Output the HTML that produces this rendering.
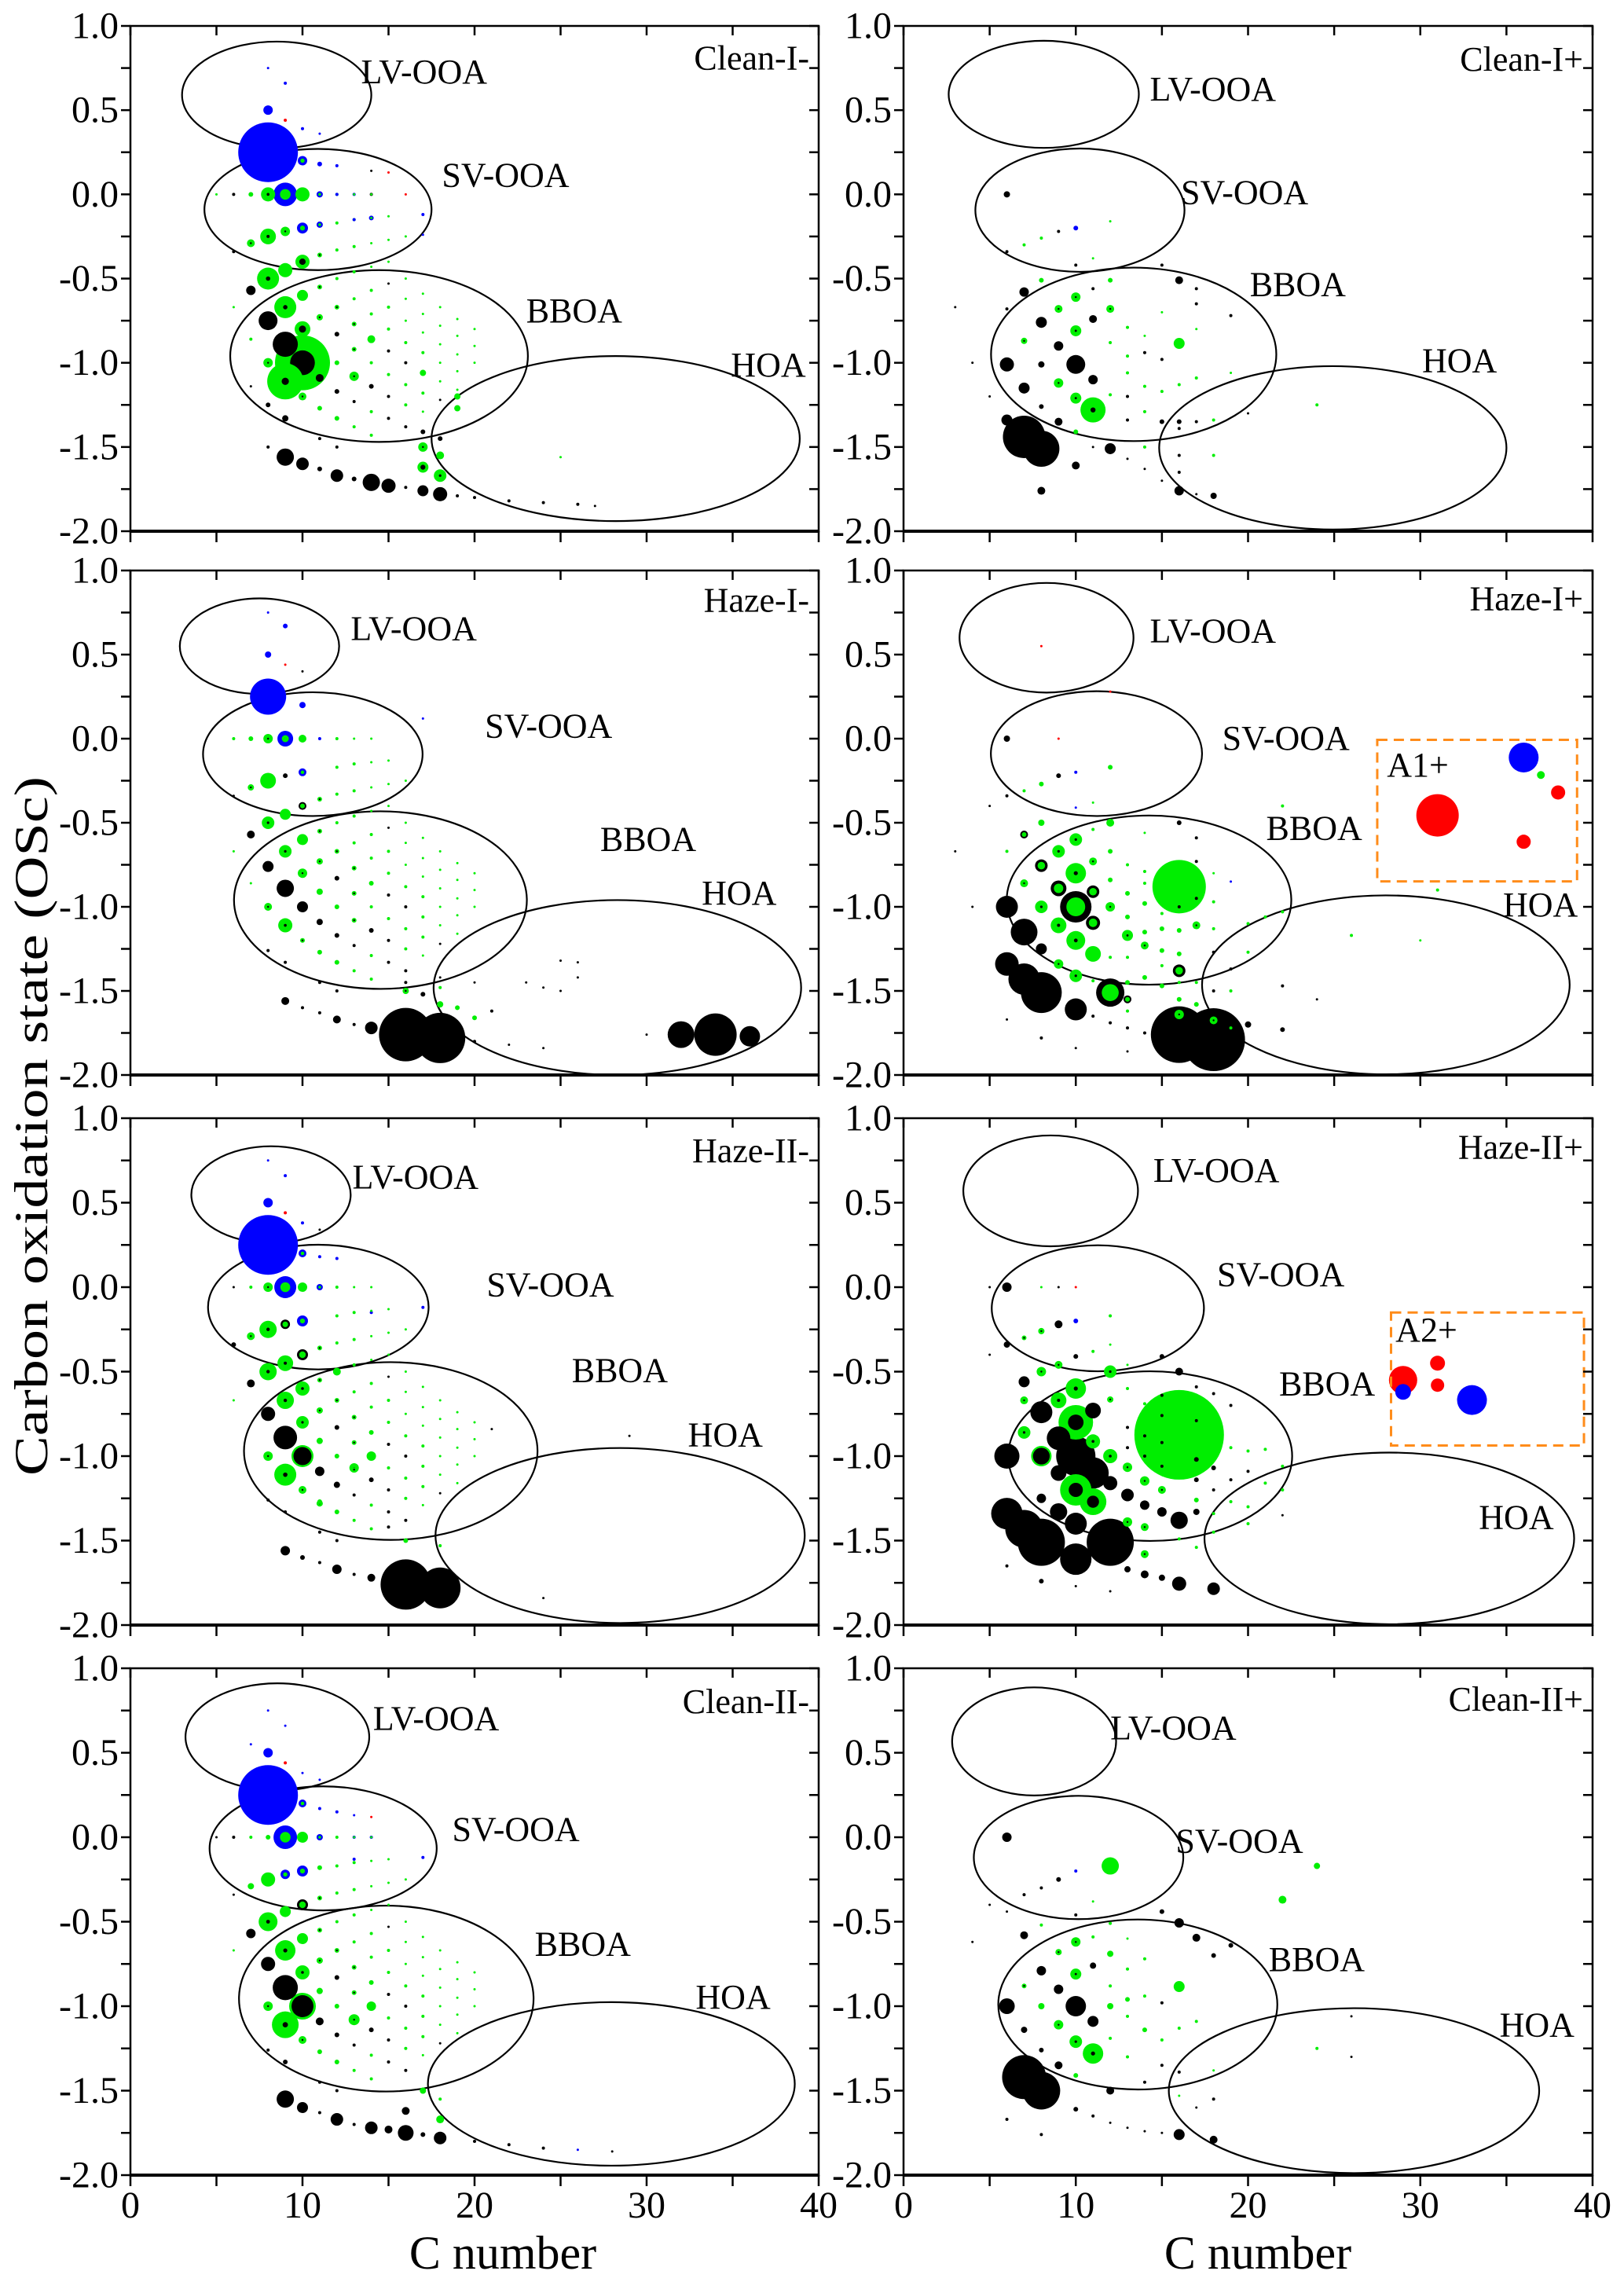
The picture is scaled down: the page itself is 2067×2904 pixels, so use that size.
<!DOCTYPE html>
<html>
<head>
<meta charset="utf-8">
<style>
html,body{margin:0;padding:0;background:#fff;}
svg{display:block;}
text{font-family:"Liberation Serif",serif;fill:#000;}
</style>
</head>
<body>
<svg id="chart" width="2067" height="2904" viewBox="0 0 2067 2904" xmlns="http://www.w3.org/2000/svg">
<rect x="0" y="0" width="2067" height="2904" fill="#fff"/>
<text x="0" y="0" transform="translate(40,1433) rotate(-90)" text-anchor="middle" dominant-baseline="central" font-size="60" textLength="890" lengthAdjust="spacingAndGlyphs">Carbon oxidation state (OSc)</text>
<text x="640" y="2887" text-anchor="middle" font-size="60">C number</text>
<text x="1601" y="2887" text-anchor="middle" font-size="60">C number</text>
</svg>
<script>
// ---------- data ----------
const panelTitles = ["Clean-I-","Haze-I-","Haze-II-","Clean-II-","Clean-I+","Haze-I+","Haze-II+","Clean-II+"];
const regionNames = ["LV-OOA","SV-OOA","BBOA","HOA"];
const yTicks = [1.0,0.5,0.0,-0.5,-1.0,-1.5,-2.0];
const yTickLabels = ["1.0","0.5","0.0","-0.5","-1.0","-1.5","-2.0"];
const xTicks = [0,10,20,30,40];
const xTickLabels = ["0","10","20","30","40"];

// ellipses [cx, cy, rx, ry] in data units: LV, SV, BBOA, HOA
const ellCleanIm = [[8.5,0.59,5.5,0.317],[10.9,-0.09,6.6,0.36],[14.45,-0.96,8.65,0.51],[28.2,-1.45,10.7,0.49]];
const ellHazeIm = [[7.5,0.55,4.63,0.284],[10.6,-0.092,6.38,0.368],[14.53,-0.96,8.51,0.528],[28.3,-1.48,10.68,0.52]];
const ellHazeIIm = [[8.17,0.547,4.63,0.287],[10.92,-0.118,6.41,0.369],[15.13,-0.97,8.53,0.526],[28.46,-1.47,10.73,0.518]];
const ellCleanIIm = [[8.54,0.594,5.34,0.317],[11.2,-0.066,6.6,0.367],[14.87,-0.955,8.56,0.55],[27.95,-1.46,10.66,0.484]];
const ellCleanIp = [[8.14,0.594,5.52,0.318],[10.24,-0.094,6.07,0.366],[13.36,-0.95,8.28,0.515],[24.92,-1.505,10.08,0.485]];
const ellHazeIp = [[8.3,0.60,5.05,0.326],[11.2,-0.089,6.13,0.371],[14.25,-0.96,8.26,0.503],[28.0,-1.464,10.67,0.532]];
const ellHazeIIp = [[8.54,0.57,5.07,0.328],[11.28,-0.125,6.16,0.373],[14.32,-1.0,8.24,0.502],[28.2,-1.487,10.73,0.508]];
const ellCleanIIp = [[7.58,0.567,4.76,0.32],[10.16,-0.12,6.08,0.365],[13.6,-0.99,8.1,0.503],[26.15,-1.5,10.75,0.488]];

// region label anchors [C, OSc]
const lblCleanIm = [[13.4,0.66],[18.1,0.047],[23.0,-0.76],[34.9,-1.08]];
const lblHazeIm = [[12.8,0.587],[20.6,0.007],[27.3,-0.666],[33.2,-0.987]];
const lblHazeIIm = [[12.9,0.583],[20.7,-0.053],[25.65,-0.56],[32.4,-0.943]];
const lblCleanIIm = [[14.1,0.634],[18.7,-0.02],[23.5,-0.7],[32.85,-1.015]];
const lblCleanIp = [[14.3,0.557],[16.1,-0.056],[20.1,-0.603],[30.1,-1.056]];
const lblHazeIp = [[14.3,0.573],[18.5,-0.066],[21.05,-0.6],[34.8,-1.056]];
const lblHazeIIp = [[14.5,0.624],[18.2,0.007],[21.8,-0.64],[33.4,-1.43]];
const lblCleanIIp = [[12.0,0.58],[15.8,-0.09],[21.2,-0.79],[34.6,-1.18]];
const titleOSc = [0.74,0.755,0.74,0.735,0.734,0.764,0.76,0.75];

// shared small-dot grid (left panels)
const gridSmall = [[12,-0.5,2,'g'],[13,-0.46,2,'g'],[14,-0.43,1.5,'g'],[15,-0.4,1.5,'g'],[12,-0.67,3,'gk'],[13,-0.62,2,'g'],[14,-0.57,2,'g'],[15,-0.53,1.5,'k'],[16,-0.5,1.5,'g'],[12,-0.83,3,'k'],[13,-0.77,3,'gk'],[14,-0.71,2,'g'],[15,-0.67,2,'g'],[16,-0.62,1.5,'g'],[17,-0.59,1.5,'g'],[12,-1.0,3,'g'],[13,-0.92,3,'gk'],[14,-0.86,3,'g'],[15,-0.8,2,'g'],[16,-0.75,1.5,'g'],[17,-0.71,1.5,'g'],[18,-0.67,1.5,'g'],[12,-1.17,3,'k'],[13,-1.08,3,'gk'],[14,-1.0,2,'g'],[15,-0.93,2,'k'],[16,-0.88,2,'g'],[17,-0.82,1.5,'g'],[18,-0.78,1.5,'g'],[19,-0.74,1.5,'g'],[12,-1.33,3,'g'],[13,-1.23,2,'k'],[14,-1.14,3,'k'],[15,-1.07,2,'g'],[16,-1.0,2,'k'],[17,-0.94,2,'g'],[18,-0.89,1.5,'g'],[19,-0.84,1.5,'g'],[20,-0.8,1.5,'g'],[13,-1.38,2,'g'],[14,-1.29,2,'g'],[15,-1.2,2,'k'],[16,-1.13,2,'g'],[17,-1.06,2,'g'],[18,-1.0,1.5,'g'],[19,-0.95,1.5,'g'],[20,-0.9,1.5,'g'],[14,-1.43,2,'g'],[15,-1.33,2,'k'],[16,-1.25,2,'g'],[17,-1.18,2,'g'],[18,-1.11,1.5,'g'],[19,-1.05,1.5,'g'],[20,-1.0,1.5,'g'],[16,-1.38,2,'k'],[17,-1.29,1.5,'g'],[18,-1.22,1.5,'k'],[19,-1.16,1.5,'g'],[11,-1.45,2,'k'],[12,-1.5,2,'k'],[11,-0.55,3,'gk'],[11,-0.36,3,'gk'],[11,-0.73,4,'gk'],[11,-0.91,4,'g'],[11,-1.27,3,'g'],[12,-0.33,2,'g'],[13,-0.31,2,'g'],[14,-0.29,1.5,'g'],[15,-0.27,1.5,'g'],[16,-0.25,1.5,'g'],[12,-0.17,2,'g'],[13,-0.15,2,'g'],[14,-0.14,1.5,'g'],[15,-0.13,1.5,'g'],[12,0,2,'g'],[13,0,1.5,'g'],[14,0,1.5,'g']];

// points [C, OSc, radius(px, abundance), colour code]
const ptsCleanIm = [[8,0.25,38,'b'],[8,0.5,6,'b'],[9,0.44,2,'r'],[9,0.66,2,'b'],[8,0.75,1.5,'b'],[10,0.39,2,'b'],[11,0.36,1.5,'b'],[9,0,15,'bg'],[8,0,9,'gk'],[10,0,9,'g'],[7,0,3,'g'],[6,0,2,'k'],[5,0,1.5,'g'],[11,0,4,'bg'],[12,0,2,'b'],[13,0,2,'b'],[14,0,2,'k'],[16,0,1.5,'r'],[10,0.2,6,'bg'],[11,0.18,3,'b'],[12,0.17,2,'b'],[14,0.14,1.5,'k'],[15,0.13,1.5,'r'],[10,-0.2,7,'bg'],[9,-0.22,6,'gk'],[8,-0.25,10,'gk'],[7,-0.29,5,'gk'],[6,-0.34,2,'k'],[11,-0.18,4,'bg'],[13,-0.15,2,'b'],[14,-0.14,3,'b'],[17,-0.12,2,'b'],[10,-0.4,9,'gK'],[9,-0.45,9,'g'],[8,-0.5,14,'gk'],[7,-0.57,6,'k'],[6,-0.67,1.5,'g'],[17,-0.24,1.5,'b'],[10,-0.6,7,'g'],[9,-0.67,14,'gk'],[8,-0.75,12,'k'],[7,-0.86,2,'g'],[10,-0.8,10,'gK'],[9,-0.89,16,'k'],[8,-1.0,6,'gk'],[7,-1.14,1.5,'k'],[10,-1.0,35,'gK'],[9,-1.11,23,'gk'],[11,-1.09,5,'k'],[10,-1.2,5,'gk'],[9,-1.33,4,'k'],[8,-1.25,3,'k'],[14,-0.86,5,'g'],[13,-1.08,6,'gk'],[17,-1.06,4,'g'],[19,-1.2,4,'g'],[19,-1.27,4,'g'],[17,-1.41,3,'k'],[18,-1.45,3,'k'],[17,-1.5,6,'gk'],[18,-1.55,5,'g'],[17,-1.62,7,'gK'],[18,-1.67,8,'gk'],[25,-1.56,1.5,'g'],[8,-1.5,2,'k'],[9,-1.56,11,'k'],[10,-1.6,8,'k'],[11,-1.63,3,'k'],[12,-1.67,8,'k'],[13,-1.69,3,'k'],[14,-1.71,11,'k'],[15,-1.73,9,'k'],[16,-1.74,2,'k'],[17,-1.76,7,'k'],[18,-1.78,9,'k'],[19,-1.79,2,'k'],[20,-1.8,2,'k'],[22,-1.82,2,'k'],[24,-1.83,2,'k'],[26,-1.84,2,'k'],[27,-1.85,1.5,'k']];
const ptsHazeIm = [[8,0.25,23,'b'],[8,0.5,4,'b'],[9,0.67,3,'b'],[8,0.75,1.5,'b'],[9,0.44,1.5,'r'],[10,0.4,1.5,'k'],[10,0.2,4,'b'],[9,0,10,'bg'],[8,0,6,'gk'],[10,0,5,'g'],[7,0,3,'g'],[6,0,2,'g'],[11,0,2,'b'],[10,-0.2,5,'bg'],[9,-0.22,3,'k'],[8,-0.25,10,'g'],[7,-0.29,4,'gk'],[6,-0.34,1.5,'k'],[17,0.12,1.5,'b'],[10,-0.4,5,'kg'],[9,-0.45,7,'g'],[8,-0.5,8,'gk'],[7,-0.57,5,'k'],[10,-0.6,7,'g'],[9,-0.67,8,'gk'],[8,-0.76,7,'k'],[6,-0.67,1.5,'g'],[10,-0.8,6,'gk'],[9,-0.89,11,'k'],[7,-0.86,1.5,'g'],[8,-1.0,5,'gk'],[10,-1.0,7,'k'],[9,-1.11,9,'gk'],[11,-1.09,4,'k'],[10,-1.2,3,'gk'],[8,-1.26,2,'k'],[9,-1.33,2,'k'],[9,-1.56,5,'k'],[10,-1.6,2,'k'],[11,-1.63,2,'k'],[12,-1.67,5,'k'],[13,-1.7,2,'k'],[14,-1.72,8,'k'],[16,-1.76,34,'k'],[18,-1.78,32,'k'],[19,-1.79,5,'k'],[20,-1.8,2,'k'],[22,-1.82,1.5,'k'],[24,-1.84,1.5,'k'],[32,-1.76,17,'k'],[34,-1.76,27,'k'],[36,-1.77,13,'k'],[30,-1.76,1.5,'k'],[16,-1.5,4,'gk'],[17,-1.52,3,'k'],[18,-1.58,4,'g'],[19,-1.6,3,'g'],[20,-1.66,3,'g'],[21,-1.62,2,'k'],[23,-1.45,1.5,'k'],[24,-1.48,1.5,'k'],[25,-1.5,1.5,'k'],[26,-1.42,1.5,'k'],[25,-1.32,1.5,'k'],[26,-1.33,1.5,'k'],[16,-1.45,2,'k'],[18,-1.42,1.5,'k'],[18,-1.48,2,'g'],[20,-1.45,1.5,'k']];
const ptsHazeIIm = [[8,0.25,38,'b'],[8,0.5,6,'b'],[9,0.66,2,'b'],[8,0.75,1.5,'b'],[9,0.44,2,'r'],[10,0.38,2,'b'],[11,0.34,1.5,'k'],[10,0.2,5,'bg'],[11,0.18,2,'b'],[12,0.17,2,'b'],[9,0,14,'bg'],[8,0,6,'gk'],[10,0,6,'g'],[7,0,2,'g'],[6,0,1.5,'k'],[11,0,4,'bg'],[10,-0.2,7,'bg'],[9,-0.22,6,'kg'],[8,-0.25,11,'gk'],[7,-0.29,5,'gk'],[6,-0.34,3,'k'],[14,-0.15,2,'b'],[17,-0.12,2,'b'],[10,-0.4,7,'kg'],[9,-0.45,10,'gk'],[8,-0.5,11,'gk'],[7,-0.57,5,'k'],[12,-0.5,5,'gk'],[10,-0.6,9,'gk'],[9,-0.67,11,'gk'],[8,-0.75,9,'k'],[6,-0.67,1.5,'g'],[10,-0.8,8,'gk'],[9,-0.89,15,'k'],[10,-1.0,14,'gB'],[8,-1.0,6,'gk'],[9,-1.11,14,'gk'],[11,-1.09,6,'k'],[13,-1.07,6,'gk'],[14,-1.0,6,'g'],[10,-1.2,5,'gk'],[11,-1.28,4,'gk'],[12,-1.17,4,'k'],[8,-1.26,2,'k'],[9,-1.33,2,'k'],[9,-1.56,6,'k'],[10,-1.6,3,'k'],[11,-1.63,2,'k'],[12,-1.67,6,'k'],[13,-1.7,2,'k'],[14,-1.72,5,'k'],[15,-1.73,2,'k'],[16,-1.76,32,'k'],[18,-1.78,26,'k'],[16,-1.5,3,'g'],[18,-1.53,2,'g'],[24,-1.84,1.5,'k'],[15,-1.42,2,'k'],[21,-0.84,1.5,'k'],[29,-0.88,1.5,'k']];
const ptsCleanIIm = [[8,0.25,38,'b'],[8,0.5,6,'b'],[9,0.44,2,'r'],[9,0.66,1.5,'b'],[8,0.75,1.5,'b'],[7,0.55,1.5,'b'],[10,0.38,1.5,'b'],[11,0.34,1.5,'b'],[10,0.2,5,'bg'],[11,0.17,2,'b'],[12,0.15,2,'b'],[13,0.13,1.5,'b'],[14,0.12,1.5,'r'],[9,0,15,'bg'],[10,0,7,'g'],[8,0,3,'g'],[7,0,2,'g'],[6,0,2,'k'],[5,0,1.5,'k'],[11,0,4,'bg'],[13,0,2,'b'],[14,0,2,'b'],[10,-0.2,7,'bg'],[9,-0.22,6,'bg'],[8,-0.25,9,'g'],[7,-0.29,4,'g'],[6,-0.34,1.5,'k'],[11,-0.18,3,'g'],[13,-0.13,2,'b'],[17,-0.12,2,'b'],[10,-0.4,7,'kg'],[9,-0.44,7,'g'],[8,-0.5,12,'gk'],[7,-0.57,6,'k'],[10,-0.6,7,'g'],[9,-0.67,13,'gk'],[8,-0.75,9,'k'],[6,-0.67,1.5,'g'],[10,-0.8,9,'gk'],[9,-0.89,16,'k'],[10,-1.0,17,'gB'],[8,-1.0,6,'gk'],[9,-1.11,17,'gk'],[11,-1.09,5,'k'],[10,-1.2,5,'gk'],[13,-1.08,7,'gk'],[14,-1.0,6,'g'],[8,-1.26,2,'k'],[9,-1.33,3,'k'],[9,-1.55,11,'k'],[10,-1.6,7,'k'],[11,-1.63,2,'k'],[12,-1.67,8,'k'],[13,-1.7,2,'k'],[14,-1.72,8,'k'],[15,-1.73,5,'k'],[16,-1.75,10,'k'],[17,-1.76,3,'k'],[18,-1.78,8,'k'],[16,-1.62,5,'k'],[18,-1.67,5,'g'],[17,-1.5,4,'g'],[18,-1.55,2,'g'],[20,-1.8,2,'k'],[22,-1.82,2,'k'],[24,-1.84,2,'k'],[26,-1.85,1.5,'b'],[28,-1.86,1.5,'k']];
const ptsCleanIp = [[6,0,4,'k'],[10,-0.2,3,'b'],[9,-0.22,2,'k'],[8,-0.26,2,'g'],[7,-0.3,2,'g'],[6,-0.34,2,'k'],[10,-0.42,2,'k'],[11,-0.38,1.5,'g'],[12,-0.16,1.5,'g'],[15,-0.42,2,'k'],[7,-0.58,6,'k'],[8,-0.51,3,'g'],[12,-0.51,3,'g'],[16,-0.51,5,'k'],[11,-0.56,2,'k'],[17,-0.56,2,'k'],[10,-0.61,6,'gk'],[9,-0.68,5,'gk'],[12,-0.68,5,'gk'],[6,-0.68,2,'k'],[3,-0.67,1.5,'k'],[17,-0.65,2,'k'],[19,-0.72,2,'k'],[8,-0.76,7,'k'],[11,-0.74,5,'k'],[10,-0.81,7,'gk'],[7,-0.87,4,'gk'],[9,-0.9,6,'k'],[16,-0.885,7,'g'],[6,-1.01,9,'k'],[8,-1.01,4,'k'],[10,-1.01,12,'k'],[11,-1.1,6,'k'],[9,-1.12,6,'gk'],[7,-1.15,7,'k'],[10,-1.21,7,'gk'],[11,-1.28,16,'gk'],[8,-1.26,3,'k'],[4,-1.0,1.5,'k'],[5,-1.2,1.5,'k'],[6,-1.34,7,'k'],[7,-1.44,27,'k'],[8,-1.51,23,'k'],[9,-1.35,5,'k'],[12,-1.51,7,'k'],[10,-1.61,5,'k'],[8,-1.76,5,'k'],[16,-1.76,6,'k'],[18,-1.79,4,'k'],[17,-1.78,1.5,'k'],[10,-1.41,3,'g'],[11,-1.5,1.5,'k'],[13,-1.57,1.5,'k'],[14,-1.63,1.5,'k'],[15,-1.7,1.5,'k'],[16,-1.35,3,'k'],[15,-1.35,3,'k'],[17,-1.35,2,'k'],[16,-1.39,2,'k'],[12,-0.88,2,'g'],[13,-0.96,2,'g'],[13,-1.06,2,'g'],[14,-0.94,2,'k'],[14,-1.14,2,'g'],[12,-1.19,2,'g'],[13,-1.2,2,'k'],[14,-1.29,2,'g'],[15,-1.17,2,'g'],[15,-0.98,2,'k'],[16,-1.13,2,'g'],[17,-1.09,2,'g'],[13,-1.34,2,'k'],[24,-1.25,2,'g'],[18,-1.34,2,'g'],[14,-1.5,2,'g'],[16,-1.55,2,'k'],[16,-1.65,2,'k'],[18,-1.55,2,'g'],[13,-0.79,2,'g'],[14,-0.84,1.5,'g'],[15,-0.7,1.5,'g'],[17,-0.8,1.5,'g'],[19,-1.06,1.5,'g'],[20,-1.3,1.5,'k']];
const ptsHazeIp = [[6,0,4,'k'],[12,-0.17,3,'g'],[9,-0.22,3,'k'],[10,-0.2,2,'b'],[8,-0.27,3,'g'],[7,-0.31,2,'g'],[6,-0.34,2,'k'],[10,-0.41,1.5,'b'],[11,-0.38,1.5,'g'],[5,-0.4,1.5,'k'],[9,0.0,1.5,'r'],[12,0.28,1.5,'r'],[8,0.55,1.5,'r'],[8,-0.5,4,'g'],[7,-0.57,5,'kg'],[12,-0.5,5,'g'],[16,-0.5,3,'k'],[11,-0.54,2,'g'],[14,-0.56,1.5,'g'],[17,-0.59,2,'k'],[10,-0.6,8,'gk'],[9,-0.67,8,'gk'],[11,-0.73,5,'gk'],[12,-0.67,3,'g'],[13,-0.75,2,'g'],[14,-0.79,2,'g'],[6,-0.67,2,'g'],[3,-0.67,1.5,'k'],[8,-0.755,8,'kg'],[10,-0.8,13,'gk'],[7,-0.86,5,'gk'],[9,-0.89,10,'kg'],[12,-0.84,3,'g'],[13,-0.92,3,'g'],[14,-0.86,2,'g'],[16,-0.88,34,'g'],[11,-0.91,8,'kg'],[6,-1.0,14,'k'],[8,-1.0,8,'gk'],[10,-1.0,20,'kg'],[12,-1.0,6,'gk'],[13,-1.06,3,'g'],[14,-0.98,3,'g'],[15,-1.04,2,'g'],[16,-1.0,2,'k'],[4,-1.0,1.5,'k'],[9,-1.11,10,'gk'],[11,-1.095,9,'kg'],[7,-1.15,17,'k'],[13,-1.17,7,'gk'],[10,-1.2,12,'gk'],[11,-1.28,10,'g'],[14,-1.15,3,'g'],[15,-1.13,3,'g'],[16,-1.14,3,'g'],[17,-1.11,5,'gk'],[14,-1.23,5,'gk'],[15,-1.26,3,'g'],[16,-1.28,3,'g'],[8,-1.25,7,'k'],[6,-1.34,15,'k'],[9,-1.34,6,'gk'],[10,-1.41,8,'gk'],[7,-1.43,20,'k'],[8,-1.51,26,'k'],[12,-1.51,18,'kg'],[13,-1.55,5,'kg'],[10,-1.61,14,'k'],[16,-1.38,8,'kg'],[14,-1.42,3,'g'],[15,-1.47,3,'g'],[16,-1.55,3,'g'],[17,-1.58,3,'g'],[13,-1.45,3,'g'],[12,-1.69,2,'k'],[13,-1.72,2,'kg'],[14,-1.75,2,'k'],[15,-1.76,3,'k'],[11,-1.65,2,'k'],[8,-1.78,2,'k'],[6,-1.67,1.5,'k'],[10,-1.84,1.5,'k'],[13,-1.86,1.5,'k'],[16,-1.76,36,'k'],[18,-1.79,40,'k'],[16,-1.64,6,'gk'],[18,-1.675,5,'gk'],[20,-1.7,4,'k'],[22,-1.73,3,'k'],[19,-1.72,2,'g'],[18,-1.13,2,'g'],[20,-1.1,2,'g'],[21,-1.06,2,'g'],[22,-1.03,2,'g'],[26,-1.17,2,'g'],[18,-1.27,2,'k'],[19,-1.37,2,'k'],[20,-1.27,2,'g'],[17,-1.45,2,'g'],[18,-1.5,2,'k'],[19,-1.5,2,'g'],[22,-1.47,2,'k'],[24,-1.55,1.5,'k'],[17,-0.73,2,'k'],[18,-0.8,1.5,'g'],[19,-0.85,1.5,'b'],[15,-0.95,2,'g'],[17,-0.95,2,'k'],[18,-0.97,2,'g'],[13,-1.3,2,'g'],[15,-1.35,2,'g'],[16,-1.45,2,'g'],[13,-1.62,2,'g'],[12,-1.3,2,'g'],[11,-1.44,2,'g'],[22,-0.4,2,'g'],[31,-0.9,2,'g'],[30,-1.2,1.5,'g']];
const ptsA1 = [[31,-0.456,27,'r'],[36,-0.112,19,'b'],[37,-0.216,5,'g'],[38,-0.32,9,'r'],[36,-0.613,9,'r']];
const ptsHazeIIp = [[6,0,6,'k'],[10,-0.2,3,'b'],[9,-0.22,5,'k'],[8,-0.26,4,'gk'],[7,-0.3,3,'gk'],[6,-0.34,4,'k'],[12,-0.17,2,'g'],[10,-0.41,3,'k'],[15,-0.41,3,'k'],[5,-0.4,1.5,'k'],[11,-0.38,2,'g'],[12,-0.34,1.5,'g'],[8,0,1.5,'g'],[9,0,1.5,'k'],[10,0,1.5,'r'],[5,0,1.5,'k'],[8,-0.5,6,'gk'],[9,-0.46,5,'gk'],[12,-0.5,8,'gk'],[16,-0.5,5,'k'],[7,-0.56,7,'k'],[13,-0.46,1.5,'g'],[10,-0.6,13,'gk'],[9,-0.67,10,'gk'],[12,-0.665,4,'gk'],[7,-0.67,5,'gk'],[8,-0.74,14,'k'],[10,-0.8,22,'gK'],[11,-0.73,10,'k'],[7,-0.86,8,'gk'],[9,-0.894,15,'k'],[11,-0.913,9,'gk'],[16,-0.874,57,'g'],[6,-1.0,16,'k'],[8,-1.0,13,'gB'],[10,-1.0,25,'k'],[11,-1.1,20,'k'],[9,-1.1,10,'k'],[12,-1.0,9,'gk'],[13,-1.066,6,'gk'],[12,-1.16,9,'k'],[10,-1.2,20,'gK'],[11,-1.27,17,'gK'],[8,-1.25,6,'k'],[14,-1.147,6,'gk'],[15,-1.2,5,'gk'],[13,-1.23,8,'k'],[14,-1.29,6,'k'],[15,-1.33,6,'k'],[16,-1.38,11,'k'],[17,-1.33,4,'k'],[6,-1.34,20,'k'],[7,-1.43,24,'k'],[8,-1.51,30,'k'],[9,-1.33,11,'k'],[10,-1.40,14,'k'],[10,-1.61,20,'k'],[12,-1.51,30,'k'],[13,-1.39,6,'gk'],[14,-1.42,5,'gk'],[14,-1.58,5,'gk'],[11,-1.53,4,'k'],[12,-1.63,4,'k'],[13,-1.67,4,'k'],[14,-1.7,5,'k'],[15,-1.72,4,'k'],[16,-1.755,9,'k'],[18,-1.785,8,'k'],[8,-1.74,3,'k'],[6,-1.65,2,'k'],[10,-1.77,1.5,'k'],[12,-1.8,1.5,'k'],[13,-0.6,2,'g'],[14,-0.69,2,'g'],[15,-0.76,2,'k'],[17,-0.59,2,'k'],[18,-0.63,2,'k'],[19,-0.7,2,'k'],[17,-0.79,2,'k'],[18,-0.9,2,'g'],[19,-0.95,2,'g'],[20,-0.97,2,'g'],[21,-0.96,2,'g'],[17,-1.02,3,'k'],[18,-1.07,3,'k'],[19,-1.14,2,'k'],[20,-1.09,2,'k'],[21,-1.16,2,'g'],[22,-1.06,2,'g'],[17,-1.14,3,'k'],[18,-1.2,2,'k'],[19,-1.27,2,'g'],[20,-1.3,2,'g'],[22,-1.2,2,'g'],[17,-1.26,3,'g'],[18,-1.34,2,'g'],[16,-1.49,2,'g'],[17,-1.54,2,'g'],[18,-1.45,2,'g'],[20,-1.4,2,'g'],[22,-1.35,1.5,'k'],[13,-0.83,2,'k'],[14,-0.88,2,'k'],[15,-0.92,2,'k'],[14,-1.0,2,'k'],[15,-1.06,2,'k'],[13,-0.95,2,'k'],[15,-0.64,2,'k']];
const ptsA2 = [[29,-0.55,18,'r'],[29,-0.62,10,'b'],[31,-0.45,9.5,'r'],[31,-0.58,8.5,'r'],[33,-0.668,19,'b']];
const ptsCleanIIp = [[6,0,6,'k'],[12,-0.17,11,'g'],[24,-0.17,4,'g'],[22,-0.37,5,'g'],[9,-0.25,3,'k'],[10,-0.2,2,'b'],[8,-0.3,2,'k'],[7,-0.34,2,'k'],[6,-0.44,1.5,'k'],[10,-0.46,2,'k'],[11,-0.38,1.5,'g'],[15,-0.44,3,'k'],[5,-0.4,1.5,'k'],[4,-0.62,1.5,'k'],[16,-0.507,6,'k'],[17,-0.595,5,'k'],[19,-0.64,3,'k'],[18,-0.7,3,'k'],[7,-0.58,5,'k'],[8,-0.52,2,'g'],[12,-0.51,2,'g'],[10,-0.62,6,'gk'],[9,-0.68,4,'gk'],[12,-0.69,4,'g'],[11,-0.59,2,'g'],[8,-0.79,6,'k'],[11,-0.76,4,'k'],[10,-0.81,7,'gk'],[7,-0.88,3,'gk'],[16,-0.884,7,'g'],[9,-0.9,6,'k'],[6,-1.0,10,'k'],[8,-1.0,4,'g'],[10,-1.0,13,'k'],[12,-1.0,4,'g'],[11,-1.09,7,'k'],[9,-1.11,6,'gk'],[7,-1.14,4,'k'],[10,-1.21,8,'gk'],[11,-1.28,13,'gk'],[8,-1.26,3,'k'],[9,-1.35,5,'k'],[10,-1.41,3,'g'],[7,-1.42,28,'k'],[8,-1.5,24,'k'],[12,-1.5,5,'k'],[10,-1.61,3,'k'],[16,-1.76,7,'k'],[18,-1.79,5,'k'],[8,-1.76,2,'k'],[6,-1.67,2,'k'],[11,-1.65,2,'k'],[12,-1.69,1.5,'k'],[13,-1.72,1.5,'k'],[14,-1.74,1.5,'k'],[15,-1.75,1.5,'k'],[24,-1.25,2,'g'],[26,-1.06,1.5,'k'],[26,-1.3,1.5,'k'],[12,-0.88,2,'g'],[13,-0.96,3,'g'],[13,-1.06,2,'g'],[14,-1.14,3,'g'],[14,-0.94,2,'g'],[15,-1.2,2,'g'],[16,-1.13,2,'g'],[17,-1.09,2,'g'],[15,-1.35,2,'k'],[16,-1.39,2,'k'],[18,-1.55,2,'k'],[12,-1.19,2,'g'],[13,-1.3,2,'g'],[14,-1.45,2,'k'],[15,-0.98,2,'k'],[14,-0.72,2,'g'],[13,-0.78,2,'g'],[16,-1.53,1.5,'g'],[17,-1.6,1.5,'k'],[18,-1.38,1.5,'g'],[13,-0.6,1.5,'g']];

// inset boxes [C0, C1, OScTop, OScBottom] and label anchors
const boxA1 = [27.5,39.1,-0.007,-0.849];
const boxA2 = [28.3,39.5,-0.15,-0.937];
const boxA1Label = [28.06,-0.224];
const boxA2Label = [28.56,-0.32];

// ---------- rendering ----------
const NS = "http://www.w3.org/2000/svg";
const svg = document.getElementById('chart');
const colLeft = [166,1042], colRight = [1150,2027];
const rowTops = [33,726,1423,2123], rowBots = [676,1368,2068,2768];
const COL = {k:'#000000', g:'#00ee00', b:'#0000ff', r:'#ff0000'};

function mk(tag, attrs, parent){
  const e = document.createElementNS(NS, tag);
  for (const k in attrs) e.setAttribute(k, attrs[k]);
  (parent||svg).appendChild(e);
  return e;
}

const panels = [
  {col:colLeft,row:0,ell:ellCleanIm,lbl:lblCleanIm,pts:gridSmall.concat(ptsCleanIm)},
  {col:colLeft,row:1,ell:ellHazeIm,lbl:lblHazeIm,pts:gridSmall.concat(ptsHazeIm)},
  {col:colLeft,row:2,ell:ellHazeIIm,lbl:lblHazeIIm,pts:gridSmall.concat(ptsHazeIIm)},
  {col:colLeft,row:3,ell:ellCleanIIm,lbl:lblCleanIIm,pts:gridSmall.concat(ptsCleanIIm)},
  {col:colRight,row:0,ell:ellCleanIp,lbl:lblCleanIp,pts:ptsCleanIp},
  {col:colRight,row:1,ell:ellHazeIp,lbl:lblHazeIp,pts:ptsHazeIp,inset:ptsA1,box:boxA1,boxLbl:boxA1Label,boxName:'A1+'},
  {col:colRight,row:2,ell:ellHazeIIp,lbl:lblHazeIIp,pts:ptsHazeIIp,inset:ptsA2,box:boxA2,boxLbl:boxA2Label,boxName:'A2+'},
  {col:colRight,row:3,ell:ellCleanIIp,lbl:lblCleanIIp,pts:ptsCleanIIp}
];

panels.forEach((p, i) => {
  const x0 = p.col[0], x1 = p.col[1];
  const top = rowTops[p.row], bot = rowBots[p.row];
  const sx = c => x0 + (x1 - x0) * c / 40;
  const sy = v => top + (1 - v) / 3 * (bot - top);
  const pxC = (x1 - x0) / 40, pxY = (bot - top) / 3;
  const g = mk('g', {});
  
  

  // ellipses
  p.ell.forEach((e, j) => {
    const el = mk('ellipse', {cx:sx(e[0]), cy:sy(e[1]), rx:e[2]*pxC, ry:e[3]*pxY, fill:'none', stroke:'#000', 'stroke-width':2.2}, g);
    
    
  });

  // points (large first so small stay visible)
  const all = p.pts.concat(p.inset || []).slice().sort((a, b) => b[2] - a[2]);
  all.forEach(d => {
    const cx = sx(d[0]), cy = sy(d[1]), r = d[2], code = d[3];
    const base = COL[code[0]];
    const c = mk('circle', {cx:cx, cy:cy, r:r, fill:base}, g);
    
    
    let inner = null, ir = 0;
    if (code === 'gk') { inner = COL.k; ir = Math.max(1.2, r * 0.2); }
    else if (code === 'gK') { inner = COL.k; ir = r * 0.45; }
    else if (code === 'gB') { inner = COL.k; ir = r * 0.82; }
    else if (code === 'kg') { inner = COL.g; ir = r * 0.6; }
    else if (code === 'bg') { inner = COL.g; ir = r * 0.45; }
    if (inner && r > 2) mk('circle', {cx:cx, cy:cy, r:ir, fill:inner}, g);
  });

  // inset box
  if (p.box) {
    const b = p.box;
    const rc = mk('rect', {x:sx(b[0]), y:sy(b[2]), width:sx(b[1]) - sx(b[0]), height:sy(b[3]) - sy(b[2]), fill:'none', stroke:'#ff8c1a', 'stroke-width':3, 'stroke-dasharray':'13,8'}, g);
    
    
    const bt = mk('text', {x:sx(p.boxLbl[0]), y:sy(p.boxLbl[1]), 'font-size':44}, g);
    bt.textContent = p.boxName;
    
    
  }

  // region labels
  p.lbl.forEach((l, j) => {
    const t = mk('text', {x:sx(l[0]), y:sy(l[1]), 'font-size':44}, g);
    t.textContent = regionNames[j];
    
    
  });

  // title
  const tt = mk('text', {x:x1 - 12, y:sy(titleOSc[i]), 'font-size':44, 'text-anchor':'end'}, g);
  tt.textContent = panelTitles[i];
  
  

  // frame
  const fr = mk('rect', {x:x0, y:top, width:x1 - x0, height:bot - top, fill:'none', stroke:'#000', 'stroke-width':2.5}, g);
  
  
  mk('line', {x1:x0, y1:bot, x2:x1, y2:bot, stroke:'#000', 'stroke-width':4}, g);

  // y ticks every 0.25
  for (let k = 0; k <= 12; k++) {
    const v = 1 - k * 0.25, y = sy(v);
    mk('line', {x1:x0 - 12, y1:y, x2:x0, y2:y, stroke:'#000', 'stroke-width':2.5}, g);
    mk('line', {x1:x1 - 12, y1:y, x2:x1, y2:y, stroke:'#000', 'stroke-width':2.5}, g);
  }
  yTicks.forEach((v, k) => {
    const t = mk('text', {x:x0 - 15, y:sy(v), 'font-size':48, 'text-anchor':'end', 'dominant-baseline':'central'}, g);
    t.textContent = yTickLabels[k];
    
    
  });
  // x ticks every 5
  for (let c = 0; c <= 40; c += 5) {
    const x = sx(c);
    mk('line', {x1:x, y1:top, x2:x, y2:top + 12, stroke:'#000', 'stroke-width':2.5}, g);
    mk('line', {x1:x, y1:bot, x2:x, y2:bot + 14, stroke:'#000', 'stroke-width':2.5}, g);
  }
  if (p.row === 3) {
    xTicks.forEach((c, k) => {
      const t = mk('text', {x:sx(c), y:2822, 'font-size':48, 'text-anchor':'middle'}, g);
      t.textContent = xTickLabels[k];
      
      
    });
  }
});
</script>
</body>
</html>
